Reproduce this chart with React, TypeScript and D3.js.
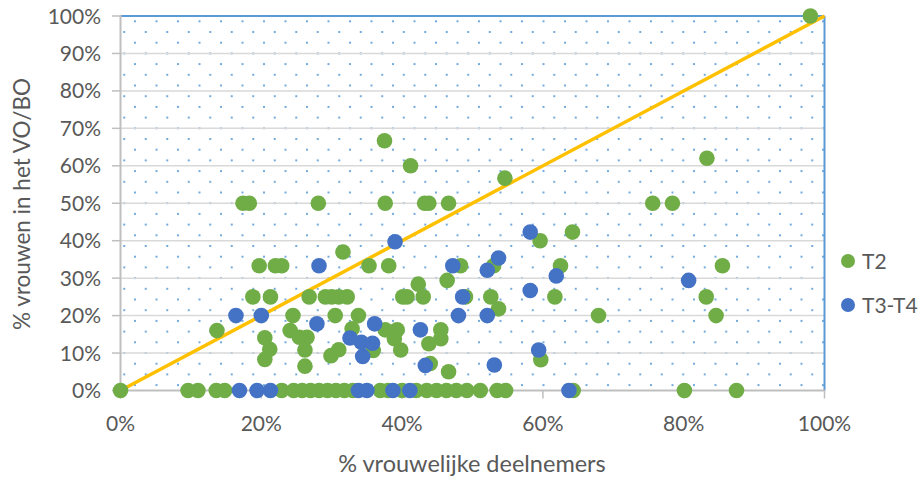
import React from "react";
import * as d3 from "d3";

const t2X = [0, 98, 37.5, 41.2, 54.6, 83.3, 17.4, 18.3, 28.1, 37.6, 43.2, 43.8, 46.6, 75.6, 78.4, 59.6, 64.2, 31.6,
  19.7, 22, 22.9, 35.3, 38.1, 48.3, 53, 62.5, 85.5, 42.3, 46.4,
  18.8, 21.3, 26.8, 29.1, 30, 31, 32.2, 40.1, 40.7, 43, 49, 52.6, 61.7, 83.2, 53.7,
  24.5, 30.5, 33.8, 67.9, 84.6, 13.7, 24.1, 32.9, 37.6, 39.3, 45.5,
  20.5, 25.4, 26.5, 38.9, 45.5, 43.8, 21.2, 26.2, 31, 35.9, 39.8, 29.9, 20.5, 26.2, 59.7, 44, 46.6,
  9.6, 11, 13.6, 14.8, 22.9, 24.6, 25.8, 27, 28.2, 29.4, 30.6, 31.8, 33, 36.9, 38, 40, 42, 43.5, 44.9, 46.3,
  47.7, 49.2, 51.1, 53.5, 54.7, 64.3, 80.1, 87.5];
const t2Y = [0, 100, 66.7, 60, 56.7, 62, 50, 50, 50, 50, 50, 50, 50, 50, 50, 40, 42.3, 37,
  33.3, 33.3, 33.3, 33.3, 33.3, 33.3, 33.3, 33.3, 33.3, 28.4, 29.4,
  25, 25, 25, 25, 25, 25, 25, 25, 25, 25, 25, 25, 25, 25, 21.8,
  20, 20, 20, 20, 20, 16, 16, 16.5, 16.2, 16.2, 16.2,
  14.1, 14.2, 14.2, 13.8, 13.8, 12.5, 11, 10.8, 10.9, 10.7, 10.8, 9.3, 8.3, 6.5, 8.2, 7.2, 5,
  0, 0, 0, 0, 0, 0, 0, 0, 0, 0, 0, 0, 0, 0, 0, 0, 0, 0, 0, 0,
  0, 0, 0, 0, 0, 0, 0, 0];

const t34X = [58.2, 39, 47.2, 52.1, 53.7, 61.9, 28.2, 80.7, 58.2, 48.6, 16.4, 20, 48, 52.1, 27.9, 36.1, 42.6,
  32.6, 34.2, 35.8, 34.4, 59.4, 43.3, 53.1, 16.9, 19.4, 21.3, 33.8, 35, 38.7, 41.1, 63.7];
const t34Y = [42.3, 39.7, 33.3, 32.1, 35.4, 30.6, 33.3, 29.4, 26.7, 25, 20, 20, 20, 20, 17.8, 17.8, 16.2,
  14, 12.9, 12.6, 9.1, 10.8, 6.7, 6.8, 0, 0, 0, 0, 0, 0, 0, 0];

const yTicks = [0, 10, 20, 30, 40, 50, 60, 70, 80, 90, 100];
const xTicks = [0, 20, 40, 60, 80, 100];
const seriesNames = ["T2", "T3-T4"];
const seriesColors = ["#70AD47", "#4472C4"];

const W = 920, H = 481;
const L = 120.5, R = 824.5, T = 16, B = 390.5;
const FONT = "Lato, 'Open Sans', sans-serif";
const TXT = "#595959";

export default function App() {
  const x = d3.scaleLinear().domain([0, 100]).range([L, R]);
  const y = d3.scaleLinear().domain([0, 100]).range([B, T]);
  const t2 = t2X.map((v, i) => [v, t2Y[i]]);
  const t34 = t34X.map((v, i) => [v, t34Y[i]]);
  const line = d3.line<number[]>().x(d => x(d[0])).y(d => y(d[1]));
  const dot = (cx: number, cy: number, k: string) => (
    <rect key={k} x={cx - 1} y={cy - 1} width={2} height={2} fill="#5B9BD5" opacity={0.85} />
  );
  return (
    <svg width={W} height={H} style={{ position: "absolute", left: 0, top: 0, background: "#fff" }}>
      <defs>
        <pattern id="dots" patternUnits="userSpaceOnUse" width={21.5} height={21.4} x={135} y={21.3}>
          {dot(0, 0, "a")}
          {dot(21.5, 0, "b")}
          {dot(0, 21.4, "c")}
          {dot(21.5, 21.4, "d")}
          {dot(10.75, 10.7, "e")}
        </pattern>
      </defs>
      <rect x={L} y={T} width={R - L} height={B - T} fill="url(#dots)" />
      {yTicks.slice(1, -1).map(t => (
        <line key={"g" + t} x1={L} x2={R} y1={y(t)} y2={y(t)} stroke="#D9D9D9" strokeWidth={1.5} />
      ))}
      <line x1={L} x2={R} y1={T} y2={T} stroke="#5B9BD5" strokeWidth={2} />
      <line x1={R} x2={R} y1={T} y2={B} stroke="#5B9BD5" strokeWidth={2} />
      <line x1={L} x2={L} y1={T - 1} y2={B} stroke="#BFBFBF" strokeWidth={2} />
      {yTicks.map(t => (
        <line key={"yt" + t} x1={112} x2={L} y1={y(t)} y2={y(t)} stroke="#BFBFBF" strokeWidth={1.5} />
      ))}
      <line x1={L} x2={R} y1={B} y2={B} stroke="#BFBFBF" strokeWidth={2} />
      {xTicks.map(t => (
        <line key={"xt" + t} x1={x(t)} x2={x(t)} y1={B} y2={B + 8} stroke="#BFBFBF" strokeWidth={1.5} />
      ))}
      {yTicks.map(t => (
        <text key={"yl" + t} x={101} y={y(t)} dy="0.36em" textAnchor="end" fontFamily={FONT} fontSize={21} fill={TXT}>
          {t + "%"}
        </text>
      ))}
      {xTicks.map(t => (
        <text key={"xl" + t} x={x(t)} y={431} textAnchor="middle" fontFamily={FONT} fontSize={21} fill={TXT}>
          {t + "%"}
        </text>
      ))}
      <text x={472} y={472} textAnchor="middle" fontFamily={FONT} fontSize={23.5} fill={TXT}>% vrouwelijke deelnemers</text>
      <text transform="translate(30,204) rotate(-90)" textAnchor="middle" fontFamily={FONT} fontSize={22.5} fill={TXT}>% vrouwen in het VO/BO</text>
      <path d={line([[0, 0], [100, 100]]) || ""} stroke="#FFC000" strokeWidth={3.5} fill="none" />
      {t2.map((d, i) => (
        <circle key={"a" + i} cx={x(d[0])} cy={y(d[1])} r={7.8} fill={seriesColors[0]} />
      ))}
      {t34.map((d, i) => (
        <circle key={"b" + i} cx={x(d[0])} cy={y(d[1])} r={7.8} fill={seriesColors[1]} />
      ))}
      {seriesNames.map((n, i) => (
        <g key={n}>
          <circle cx={848} cy={261 + i * 44} r={7} fill={seriesColors[i]} />
          <text x={862} y={261 + i * 44} dy="0.36em" fontFamily={FONT} fontSize={21} fill={TXT}>{n}</text>
        </g>
      ))}
    </svg>
  );
}
